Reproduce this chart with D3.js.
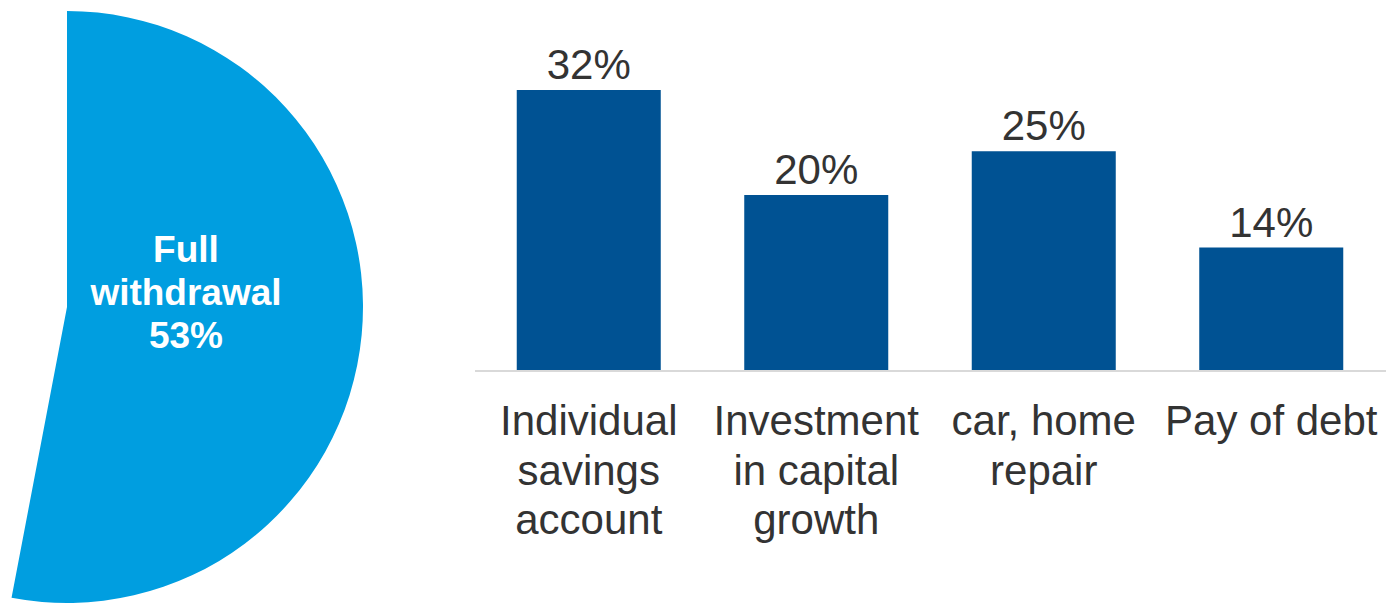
<!DOCTYPE html>
<html>
<head>
<meta charset="utf-8">
<script src="https://cdn.jsdelivr.net/npm/d3@7"></script>
<style>
  html, body { margin: 0; padding: 0; background: #ffffff; }
  svg { display: block; }
  text { font-family: "Liberation Sans", Arial, sans-serif; }
</style>
</head>
<body>
<svg id="chart" width="1386" height="606"></svg>
<script>
// Share of members taking a full withdrawal (the remainder is left blank)
const pieShares = [53, 47];
const pieLabelLines = ["Full", "withdrawal", "53%"];

// How the withdrawn money was used
const categories = [
  ["Individual", "savings", "account"],
  ["Investment", "in capital", "growth"],
  ["car, home", "repair"],
  ["Pay of debt"]
];
const usageValues = [32, 20, 25, 14];
const valueLabels = ["32%", "20%", "25%", "14%"];

const svg = d3.select("#chart");

// ---- Pie (partially cropped at the left edge) ----
const pieCx = 67, pieCy = 307, pieR = 296;
const pie = d3.pie().sort(null).value(d => d);
const arc = d3.arc().innerRadius(0).outerRadius(pieR);

const pieG = svg.append("g").attr("transform", `translate(${pieCx},${pieCy})`);
pieG.selectAll("path")
  .data(pie(pieShares))
  .join("path")
  .attr("d", arc)
  .attr("fill", (d, i) => i === 0 ? "#009ee0" : "none");

const pieLabel = pieG.append("text")
  .attr("text-anchor", "middle")
  .attr("fill", "#ffffff")
  .attr("font-weight", "bold")
  .attr("font-size", 37);
pieLabel.selectAll("tspan")
  .data(pieLabelLines)
  .join("tspan")
  .attr("x", 119)
  .attr("y", (d, i) => -45.5 + i * 43)
  .text(d => d);

// ---- Bar chart ----
const x = d3.scaleBand()
  .domain(d3.range(categories.length))
  .range([475, 1385])
  .paddingInner(0.367)
  .paddingOuter(0.1835);

const y = d3.scaleLinear().domain([0, 40]).range([370, 20]);

svg.append("g")
  .selectAll("rect")
  .data(usageValues)
  .join("rect")
  .attr("x", (d, i) => x(i))
  .attr("y", d => y(d))
  .attr("width", x.bandwidth())
  .attr("height", d => y(0) - y(d))
  .attr("fill", "#005293");

svg.append("g")
  .selectAll("text")
  .data(usageValues)
  .join("text")
  .attr("x", (d, i) => x(i) + x.bandwidth() / 2)
  .attr("y", d => y(d) - 11)
  .attr("text-anchor", "middle")
  .attr("font-size", 42)
  .attr("fill", "#333333")
  .text((d, i) => valueLabels[i]);

// Category axis with multi-line labels
const axis = svg.append("g")
  .attr("transform", `translate(0,${y(0)})`)
  .call(d3.axisBottom(x).tickSize(0).tickSizeOuter(0).tickFormat(""));
axis.select(".domain")
  .attr("stroke", "#d9d9d9")
  .attr("stroke-width", 2)
  .attr("d", "M475,1H1386");

axis.selectAll(".tick text").each(function(d) {
  const t = d3.select(this)
    .attr("y", 0)
    .attr("dy", null)
    .attr("font-size", 42)
    .attr("fill", "#333333")
    .attr("font-family", "Liberation Sans, Arial, sans-serif");
  t.selectAll("tspan")
    .data(categories[d])
    .join("tspan")
    .attr("x", 0)
    .attr("y", (s, i) => 65 + i * 49.5)
    .text(s => s);
});
</script>
</body>
</html>
